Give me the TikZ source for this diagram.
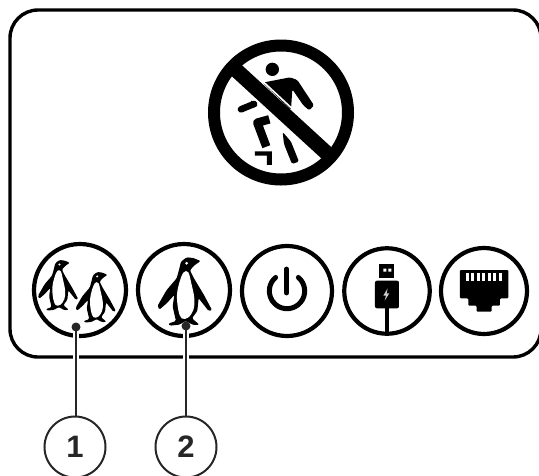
\documentclass[tikz,border=0pt]{standalone}
\usepackage{fontspec}
\setmainfont{Liberation Sans}
\tikzset{
  ring/.style={circle,draw=black,line width=4.2pt,inner sep=0pt,minimum size=#1},
  callout/.style={circle,draw=black!85,line width=2pt,inner sep=0pt,minimum size=61pt,font=\bfseries\fontsize{31}{31}\selectfont,text=black!85},
  leader/.style={draw=black!85,line width=2pt},
  halo/.style={draw=white,line width=6.5pt}
}
\newcommand{\penguinshape}{%
  \fill[black,rounded corners=1.2pt] (542,78) -- (520,69) -- (500,67) -- (483,80) -- (477,105) -- (470,130)
    -- (440,165) -- (413,212) -- (418,224) -- (440,205) -- (463,180)
    -- (458,215) -- (468,258) -- (445,266) -- (450,272) -- (478,269) -- (497,258) -- (520,270) -- (538,269) -- (516,250)
    -- (532,228) -- (536,190) -- (566,228) -- (576,225) -- (552,180) -- (522,130) -- (510,106) -- (522,92) -- cycle;
  \fill[white] plot[smooth cycle,tension=.6] coordinates {(491,112) (505,112) (514,145) (523,190) (520,225) (504,248) (485,250) (475,225) (471,180) (479,140)};
  \fill[white] (500,85) circle[radius=4.5];
}
\begin{document}
\begin{tikzpicture}[x=1pt,y=-1pt]
\useasboundingbox (0,0) rectangle (539,475);
\clip (0,0) rectangle (539,475);
\draw[line width=3.4pt,rounded corners=28pt] (10,10) rectangle (541,357);

% prohibition sign
\begin{scope}[shift={(190pt,-30pt)},x=0.3333pt,y=-0.3333pt]
  \fill (247,118) circle[radius=20];
  \fill[rounded corners=1.5pt] (218,158) -- (300,142) -- (322,150) -- (372,226) -- (358,241) -- (340,226) -- (307,178) -- (303,240) -- cycle;
  \fill[rounded corners=1.5pt] (278,306) -- (303,335) -- (327,395) -- (306,402) -- (282,342) -- cycle;
  \draw[line width=6.6pt,line cap=round] (153,238) -- (192,222);
  \fill (185,212) -- (202,228) -- (192,232) -- (180,222) -- cycle;
  \draw[line width=8.5pt,line join=round] (238,268) -- (202,278) -- (229,350);
  \fill (195,364) -- (246,364) -- (246,405) -- (231,405) -- (231,377) -- (195,377) -- cycle;
  \draw[white,line width=1.6pt] (214,150) -- (312,241);
  \draw[line width=15pt] (136,118) -- (424,382);
\end{scope}
\node[circle,draw=black,line width=12pt,inner sep=0pt,minimum size=134pt] (nostep) at (281,112.5) {};

% icon rings
\node[ring=92pt] (duo) at (80,290) {};
\node[ring=92pt] (solo) at (184,290) {};
\node[ring=90pt] (power) at (287,291) {};
\node[ring=85.5pt] (usb) at (387,291) {};
\node[ring=86pt] (lan) at (484,291) {};

% penguins
\begin{scope}[shift={(20pt,-235pt)},x=0.3333pt,y=-0.3333pt]\penguinshape\end{scope}
\begin{scope}[shift={(-63.9pt,-243.5pt)},x=0.2467pt,y=-0.2467pt]\penguinshape\end{scope}
\begin{scope}[shift={(-26.2pt,-255.5pt)},x=0.2467pt,y=-0.2467pt]\penguinshape\end{scope}

% power symbol
\draw[line width=5pt,line cap=round] ([shift={(-50:17.7)}]power.center) arc[start angle=-50,end angle=230,radius=17.7];
\draw[line width=4.8pt,line cap=round] (286.7,269) -- (286.7,293);

% usb symbol
\begin{scope}[shift={(235pt,-235pt)},x=0.3333pt,y=-0.3333pt]
  \fill (433,87) rectangle (478,130);
  \fill[white] (445,101) rectangle (454,110) (460,101) rectangle (469,110);
  \fill[rounded corners=2pt] (420,137) rectangle (492,220);
  \draw[line width=4pt] (456,215) -- (456,296);
  \fill[white!80!black] (458,160) -- (445,182) -- (453,182) -- (449,197) -- (463,175) -- (455,175) -- cycle;
\end{scope}

% network symbol
\begin{scope}[shift={(235pt,-235pt)},x=0.3333pt,y=-0.3333pt]
  \fill[rounded corners=1pt] (675,105) -- (820,105) -- (820,190) -- (795,190) -- (795,212) -- (770,212) -- (770,230) -- (725,230) -- (725,212) -- (700,212) -- (700,190) -- (675,190) -- cycle;
  \foreach \px in {692,709,725,742,758,775,791} {\fill[white] (\px,115) rectangle ++(9,23);}
\end{scope}

% callouts
\coordinate (dot1) at (76,327);
\coordinate (dot2) at (186,326);
\node[callout] (c1) at (75,447) {1};
\node[callout] (c2) at (186,447) {2};
\draw[halo] (76,333) -- (76,365);
\draw[halo] (186,333) -- (186,365);
\fill[black!85] (dot1) circle[radius=4.5];
\fill[black!85] (dot2) circle[radius=4.5];
\draw[leader] (dot1) -- (dot1 |- c1.north);
\draw[leader] (dot2) -- (c2.north);
\end{tikzpicture}
\end{document}
